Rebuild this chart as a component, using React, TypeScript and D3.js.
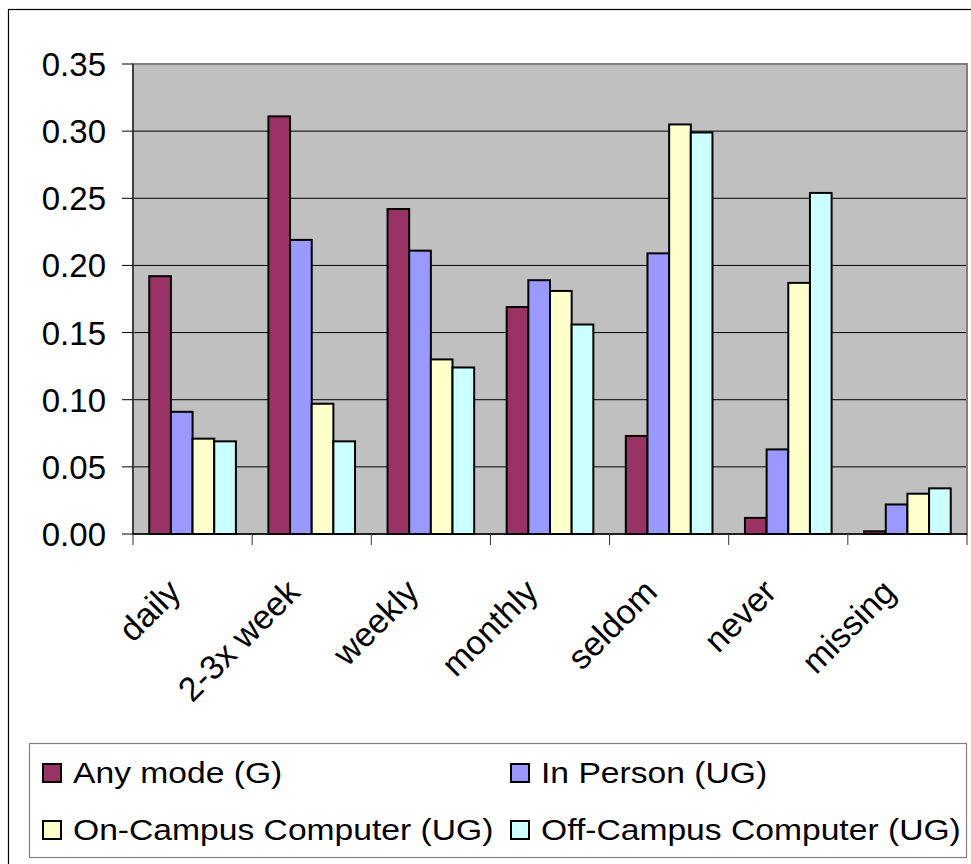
import React from "react";
import * as d3 from "d3";

const categories = ["daily", "2-3x week", "weekly", "monthly", "seldom", "never", "missing"];
const seriesNames = ["Any mode (G)", "In Person (UG)", "On-Campus Computer (UG)", "Off-Campus Computer (UG)"];
const anyMode = [0.192, 0.311, 0.242, 0.169, 0.073, 0.012, 0.002];
const inPerson = [0.091, 0.219, 0.211, 0.189, 0.209, 0.063, 0.022];
const onCampus = [0.071, 0.097, 0.130, 0.181, 0.305, 0.187, 0.030];
const offCampus = [0.069, 0.069, 0.124, 0.156, 0.299, 0.254, 0.034];
const yTicks = [0, 0.05, 0.1, 0.15, 0.2, 0.25, 0.3, 0.35];
const seriesColors = ["#993366", "#9999FF", "#FFFFCC", "#CCFFFF"];

const seriesValues = [anyMode, inPerson, onCampus, offCampus];

const W = 971;
const H = 864;
const plot = { left: 133, right: 967, top: 64, bottom: 534 };
const font = "'Liberation Sans', Arial, Helvetica, sans-serif";

export default function App() {
  const x0 = d3.scaleBand<string>().domain(categories).range([plot.left, plot.right]).paddingInner(0).paddingOuter(0);
  const x1 = d3.scaleBand<string>().domain(seriesNames).range([0, x0.bandwidth()]).paddingInner(0).paddingOuter(0.75);
  const y = d3.scaleLinear().domain([0, 0.35]).range([plot.bottom, plot.top]);
  const fmt = d3.format(".2f");

  const legendCols = [42, 510];
  const legendRows = [783, 840];

  return (
    <svg
      width={W}
      height={H}
      style={{ position: "absolute", left: 0, top: 0, display: "block" }}
      fontFamily={font}
    >
      <rect x={0} y={0} width={W} height={H} fill="#ffffff" />
      <rect x={8.5} y={9.5} width={1000} height={900} fill="#ffffff" stroke="#000" strokeWidth={1.2} />

      {/* plot area */}
      <rect
        x={plot.left}
        y={plot.top}
        width={plot.right - plot.left}
        height={plot.bottom - plot.top}
        fill="#C0C0C0"
      />
      {yTicks.filter((t) => t > 0 && t < 0.35).map((t) => (
        <line key={"g" + t} x1={plot.left} x2={plot.right} y1={y(t)} y2={y(t)} stroke="#000" strokeWidth={1} />
      ))}
      <rect
        x={plot.left}
        y={plot.top}
        width={plot.right - plot.left}
        height={plot.bottom - plot.top}
        fill="none"
        stroke="#808080"
        strokeWidth={2}
      />

      {/* bars */}
      {categories.map((c, ci) => (
        <g key={c} transform={`translate(${x0(c)},0)`}>
          {seriesNames.map((s, si) => {
            const v = seriesValues[si][ci];
            return (
              <rect
                key={s}
                x={x1(s)}
                y={y(v)}
                width={x1.bandwidth()}
                height={y(0) - y(v)}
                fill={seriesColors[si]}
                stroke="#000"
                strokeWidth={2}
              />
            );
          })}
        </g>
      ))}

      {/* axes */}
      <line x1={plot.left} x2={plot.left} y1={plot.top} y2={plot.bottom} stroke="#000" strokeWidth={1} />
      <line x1={plot.left} x2={plot.right} y1={plot.bottom} y2={plot.bottom} stroke="#000" strokeWidth={1.5} />
      {yTicks.map((t) => (
        <g key={"t" + t}>
          <line x1={plot.left - 11} x2={plot.left} y1={y(t)} y2={y(t)} stroke="#000" strokeWidth={1} />
          <text x={106} y={y(t) + 12} textAnchor="end" fontSize={33} fill="#000">
            {fmt(t)}
          </text>
        </g>
      ))}
      {categories.concat(["__end"]).map((c, i) => {
        const xx = i < categories.length ? (x0(c) as number) : plot.right;
        return <line key={"xt" + i} x1={xx} x2={xx} y1={plot.bottom} y2={plot.bottom + 11} stroke="#333" strokeWidth={1} />;
      })}
      {categories.map((c) => {
        const cx = (x0(c) as number) + x0.bandwidth() / 2 - 10;
        const cy = 594;
        return (
          <text
            key={"l" + c}
            x={cx}
            y={cy}
            textAnchor="end"
            fontSize={34}
            fill="#000"
            transform={`rotate(-45 ${cx} ${cy})`}
          >
            {c}
          </text>
        );
      })}

      {/* legend */}
      <rect x={29.5} y={743.5} width={937} height={114} fill="#ffffff" stroke="#808080" strokeWidth={1.2} />
      {seriesNames.map((s, i) => {
        const col = legendCols[i % 2];
        const base = legendRows[Math.floor(i / 2)];
        return (
          <g key={"leg" + s}>
            <rect x={col + 1} y={base - 19} width={18} height={18} fill={seriesColors[i]} stroke="#000" strokeWidth={2} />
            <text
              x={0}
              y={0}
              fontSize={29}
              fill="#000"
              transform={`translate(${col + 31},${base}) scale(1.16,1)`}
            >
              {s}
            </text>
          </g>
        );
      })}
    </svg>
  );
}
